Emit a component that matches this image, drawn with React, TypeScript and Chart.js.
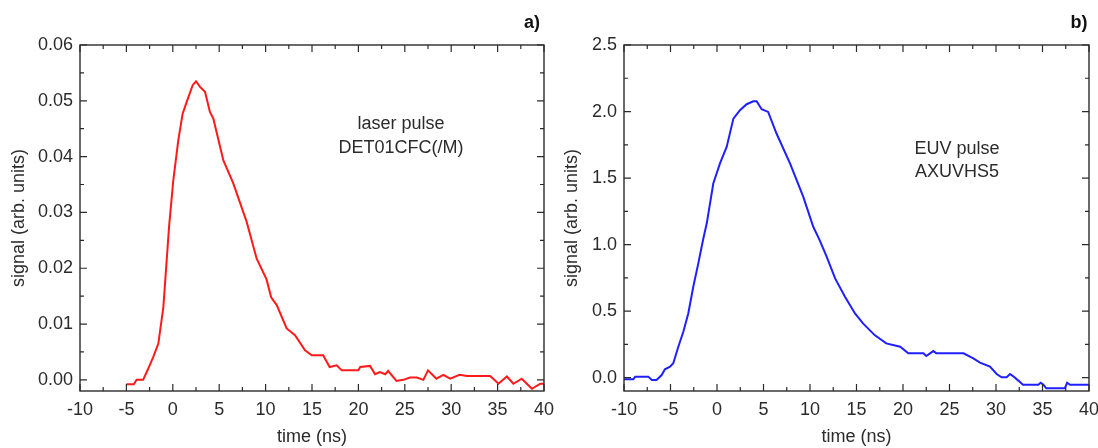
import React, { useEffect, useRef } from "react";
import { Chart, registerables } from "chart.js";

Chart.register(...registerables);

// ---- Data ----
const laserTime = [
  -5.0, -4.2, -3.9, -3.2, -2.7, -2.1, -1.56, -1.02, -0.66, -0.4, 0.05, 0.59, 1.06, 1.5, 2.14, 2.5, 2.93, 3.47,
  4.0, 4.37, 5.45, 6.52, 7.96, 9.04, 10.1, 10.6, 11.2, 12.27, 13.17, 14.25, 14.97, 16.2, 16.9, 17.66, 18.2, 20.0,
  20.2, 21.25, 21.8, 22.3, 22.9, 23.2, 24.1, 24.85, 25.56, 26.3, 27.0, 27.5, 28.4, 29.15, 29.9, 30.9, 31.7, 34.2,
  35.1, 36.0, 36.7, 37.6, 38.7, 39.6, 40.0,
];
const laserSignal = [
  -0.0008, -0.0008, 0.0, 0.0, 0.0018, 0.0041, 0.0065, 0.013, 0.0214, 0.0275, 0.0357, 0.0429, 0.0477, 0.0498,
  0.0528, 0.0535, 0.0525, 0.0516, 0.048, 0.0468, 0.0393, 0.0352, 0.0283, 0.0217, 0.018, 0.0148, 0.0134, 0.0092,
  0.008, 0.0053, 0.0044, 0.0044, 0.0023, 0.0026, 0.0017, 0.0017, 0.0023, 0.0025, 0.001, 0.0014, 0.001, 0.0016,
  -0.0002, 0.0, 0.0004, 0.0004, 0.0, 0.0017, 0.0002, 0.0009, 0.0002, 0.0009, 0.0007, 0.0007, -0.0007, 0.0006,
  -0.0007, 0.0002, -0.0016, -0.0007, -0.0007,
];

const euvTime = [
  -10, -9.0, -8.8, -7.4, -7.0, -6.5, -5.95, -5.6, -5.05, -4.7, -4.16, -3.62, -3.09, -2.55, -2.01, -1.47, -1.1,
  -0.4, 0.32, 1.04, 1.76, 2.47, 3.19, 3.9, 4.26, 4.8, 5.5, 6.4, 7.85, 9.28, 10.35, 11.0, 11.8, 12.7, 13.76, 14.84,
  15.7, 16.95, 18.2, 19.7, 20.57, 22.2, 22.5, 23.26, 23.6, 26.5, 27.56, 28.28, 29.35, 30.07, 30.6, 31.15, 31.5,
  31.86, 32.4, 32.9, 34.55, 34.8, 35.1, 35.4, 37.4, 37.65, 37.96, 40,
];
const euvSignal = [
  -0.012, -0.012, 0.008, 0.008, -0.017, -0.017, 0.02, 0.063, 0.083, 0.108, 0.233, 0.345, 0.483, 0.683, 0.859,
  1.046, 1.16, 1.459, 1.61, 1.734, 1.947, 2.01, 2.055, 2.077, 2.077, 2.017, 1.997, 1.835, 1.61, 1.359, 1.134,
  1.04, 0.908, 0.746, 0.608, 0.483, 0.408, 0.32, 0.258, 0.233, 0.183, 0.183, 0.163, 0.2, 0.183, 0.183, 0.145,
  0.113, 0.083, 0.028, 0.003, 0.003, 0.028, 0.01, -0.022, -0.053, -0.053, -0.038, -0.053, -0.08, -0.08, -0.038,
  -0.053, -0.053,
];

const xTickValues = [-10, -5, 0, 5, 10, 15, 20, 25, 30, 35, 40];
const laserYTicks = [0, 0.01, 0.02, 0.03, 0.04, 0.05, 0.06];
const euvYTicks = [0, 0.5, 1.0, 1.5, 2.0, 2.5];

const xTitle = "time (ns)";
const yTitle = "signal (arb. units)";
const laserNotes = ["laser pulse", "DET01CFC(/M)"];
const euvNotes = ["EUV pulse", "AXUVHS5"];

const FONT = "'Liberation Sans', Arial, Helvetica, sans-serif";
const INK = "#2b2b2b";

type PanelProps = {
  left: number;
  width: number;
  time: number[];
  signal: number[];
  color: string;
  yMin: number;
  yMax: number;
  yTicks: number[];
  yDecimals: number;
  yAxisWidth: number;
  padRight: number;
  yTitlePad: number;
  notes: string[];
  noteX: number;
  noteY: number[];
  label: string;
  labelX: number;
};

function Panel(p: PanelProps) {
  const ref = useRef<HTMLCanvasElement | null>(null);

  useEffect(() => {
    const canvas = ref.current;
    if (!canvas) return;
    const points = p.time.map((t, i) => ({ x: t, y: p.signal[i] }));

    const framePlugin = {
      id: "frameTicks",
      afterDraw(chart: any) {
        const { ctx, chartArea: a, scales } = chart;
        const xs = scales.x;
        const ys = scales.y;
        ctx.save();
        ctx.strokeStyle = INK;
        ctx.lineWidth = 1.4;
        ctx.strokeRect(a.left, a.top, a.right - a.left, a.bottom - a.top);

        const major = 7;
        const minor = 4;
        const xv: number[] = xs.ticks.map((t: any) => t.value);
        const yv: number[] = ys.ticks.map((t: any) => t.value);
        ctx.lineWidth = 1.2;
        ctx.beginPath();
        const xTick = (v: number, len: number) => {
          const px = xs.getPixelForValue(v);
          if (px < a.left - 0.5 || px > a.right + 0.5) return;
          ctx.moveTo(px, a.bottom);
          ctx.lineTo(px, a.bottom - len);
          ctx.moveTo(px, a.top);
          ctx.lineTo(px, a.top + len);
        };
        const yTick = (v: number, len: number) => {
          const py = ys.getPixelForValue(v);
          if (py < a.top - 0.5 || py > a.bottom + 0.5) return;
          ctx.moveTo(a.left, py);
          ctx.lineTo(a.left + len, py);
          ctx.moveTo(a.right, py);
          ctx.lineTo(a.right - len, py);
        };
        xv.forEach((v, i) => {
          xTick(v, major);
          if (i < xv.length - 1) xTick((v + xv[i + 1]) / 2, minor);
        });
        yv.forEach((v, i) => {
          yTick(v, major);
          if (i < yv.length - 1) yTick((v + yv[i + 1]) / 2, minor);
        });
        ctx.stroke();

        ctx.fillStyle = INK;
        ctx.textAlign = "center";
        ctx.textBaseline = "alphabetic";
        ctx.font = `18px ${FONT}`;
        p.notes.forEach((n, i) => ctx.fillText(n, p.noteX, p.noteY[i]));

        ctx.font = `bold 18px ${FONT}`;
        ctx.fillStyle = "#111";
        ctx.fillText(p.label, p.labelX, 28);
        ctx.restore();
      },
    };

    const chart = new Chart(canvas, {
      type: "line",
      data: {
        datasets: [
          {
            data: points,
            borderColor: p.color,
            borderWidth: 2,
            pointRadius: 0,
            tension: 0,
            fill: false,
          },
        ],
      },
      options: {
        animation: false,
        responsive: false,
        events: [],
        layout: { padding: { top: 45, right: p.padRight, left: 0, bottom: 0 } },
        plugins: { legend: { display: false }, tooltip: { enabled: false } },
        scales: {
          x: {
            type: "linear",
            min: -10,
            max: 40,
            grid: { display: false, drawTicks: false },
            border: { display: false },
            afterBuildTicks: (s: any) => {
              s.ticks = xTickValues.map((v) => ({ value: v }));
            },
            afterFit: (s: any) => {
              s.height = 57;
              s.paddingLeft = 0;
              s.paddingRight = 0;
            },
            ticks: {
              color: INK,
              padding: 8,
              maxRotation: 0,
              autoSkip: false,
              font: { size: 18, family: FONT },
              callback: (v: any) => String(v),
            },
            title: {
              display: true,
              text: xTitle,
              color: INK,
              font: { size: 18, family: FONT },
              padding: { top: 0, bottom: 0 },
            },
          },
          y: {
            type: "linear",
            min: p.yMin,
            max: p.yMax,
            grid: { display: false, drawTicks: false },
            border: { display: false },
            afterBuildTicks: (s: any) => {
              s.ticks = p.yTicks.map((v) => ({ value: v }));
            },
            afterFit: (s: any) => {
              s.width = p.yAxisWidth;
              s.paddingTop = 0;
              s.paddingBottom = 0;
            },
            ticks: {
              color: INK,
              padding: 7,
              autoSkip: false,
              font: { size: 18, family: FONT },
              callback: (v: any) => Number(v).toFixed(p.yDecimals),
            },
            title: {
              display: true,
              text: yTitle,
              color: INK,
              font: { size: 18, family: FONT },
              padding: { top: p.yTitlePad, bottom: 0 },
            },
          },
        },
      },
      plugins: [framePlugin],
    } as any);

    return () => chart.destroy();
  }, []);

  return (
    <div style={{ position: "absolute", left: p.left, top: 0, width: p.width, height: 448 }}>
      <canvas ref={ref} width={p.width} height={448} style={{ width: p.width, height: 448, display: "block" }} />
    </div>
  );
}

export default function App() {
  return (
    <div
      style={{
        position: "fixed",
        left: 0,
        top: 0,
        width: 1098,
        height: 448,
        background: "#ffffff",
        overflow: "hidden",
      }}
    >
      <Panel
        left={0}
        width={570}
        time={laserTime}
        signal={laserSignal}
        color="#ff1a1a"
        yMin={-0.002}
        yMax={0.06}
        yTicks={laserYTicks}
        yDecimals={2}
        yAxisWidth={80}
        padRight={26}
        yTitlePad={8}
        notes={laserNotes}
        noteX={401}
        noteY={[129, 153]}
        label="a)"
        labelX={532}
      />
      <Panel
        left={550}
        width={560}
        time={euvTime}
        signal={euvSignal}
        color="#1f1fff"
        yMin={-0.1}
        yMax={2.5}
        yTicks={euvYTicks}
        yDecimals={1}
        yAxisWidth={74}
        padRight={21}
        yTitlePad={11}
        notes={euvNotes}
        noteX={407}
        noteY={[154, 177]}
        label="b)"
        labelX={529}
      />
    </div>
  );
}
